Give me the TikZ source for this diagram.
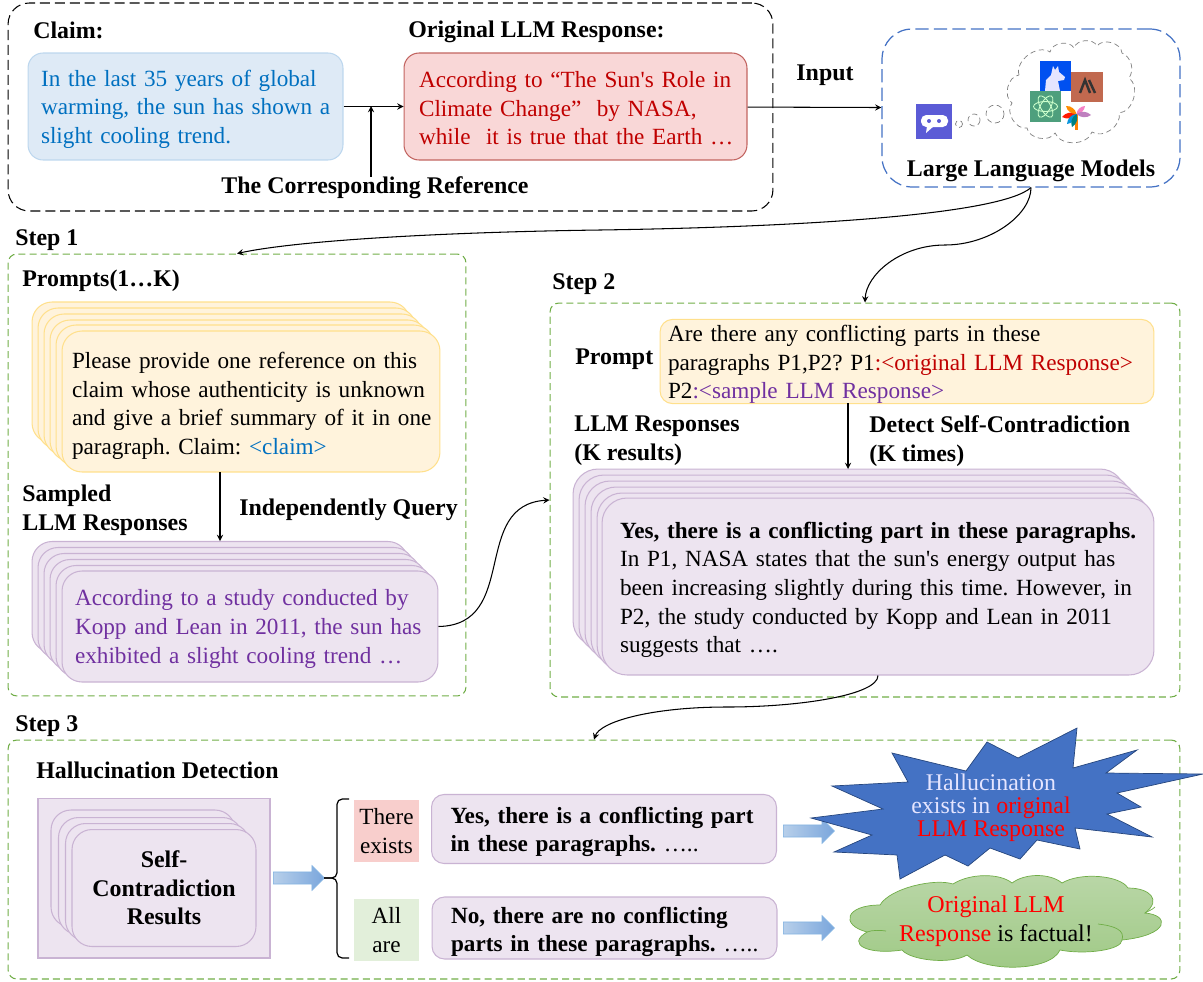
\documentclass[tikz,border=0pt]{standalone}
\usepackage{fontspec}
\setmainfont{Liberation Serif}
\usepackage{tikz}
\usetikzlibrary{shapes.arrows}

\definecolor{blueink}{HTML}{0070C0}
\definecolor{redink}{HTML}{C00000}
\definecolor{purpleink}{HTML}{7030A0}
\definecolor{claimfill}{HTML}{DEEAF6}
\definecolor{claimedge}{HTML}{BDD7EE}
\definecolor{origfill}{HTML}{F9D7D7}
\definecolor{origedge}{HTML}{C26460}
\definecolor{cardpurple}{HTML}{EDE4F0}
\definecolor{cardedge}{HTML}{C9B3D3}
\definecolor{cardyellow}{HTML}{FFF3DC}
\definecolor{yellowedge}{HTML}{FFE08C}
\definecolor{stepgreen}{HTML}{70AD47}
\definecolor{botviolet}{HTML}{5B5BD6}
\definecolor{llamablue}{HTML}{0050F0}
\definecolor{clayred}{HTML}{C1694F}
\definecolor{gptgreen}{HTML}{4E9F7D}
\definecolor{burstblue}{HTML}{4472C4}
\definecolor{burstedge}{HTML}{26467D}
\definecolor{tagred}{HTML}{F8CECC}
\definecolor{taggreen}{HTML}{E2EFDA}
\definecolor{arrowpale}{HTML}{B7CFEA}
\definecolor{arrowdeep}{HTML}{7AA6DC}
\definecolor{arrowedge}{HTML}{84B4E2}
\definecolor{cloudtop}{HTML}{BAD7A8}
\definecolor{cloudlow}{HTML}{9FC985}

\newcommand{\pushdown}[1]{\rule{0pt}{#1pt}}

\tikzset{
  >=stealth,
  every node/.style={font=\fontsize{13.2}{16.3}\selectfont,inner sep=0pt},
  title/.style={anchor=west,align=left,font=\fontsize{13.6}{16.3}\selectfont\bfseries},
  link/.style={line width=0.6pt},
  stepbox/.style={draw=stepgreen,line width=0.6pt,dash pattern=on 4pt off 2.3pt,rounded corners=5pt},
  promptcard/.style={draw=yellowedge,line width=0.6pt,fill=cardyellow,rounded corners=0.4cm,minimum width=7.56cm,minimum height=2.82cm},
  samplecard/.style={draw=cardedge,line width=0.6pt,fill=cardpurple,rounded corners=0.4cm,minimum width=7.52cm,minimum height=2.22cm},
  resultcard/.style={draw=cardedge,line width=0.6pt,fill=cardpurple,rounded corners=0.5cm,minimum width=11.04cm,minimum height=3.54cm},
  selfcard/.style={draw=cardedge,line width=0.6pt,fill=cardpurple,rounded corners=0.4cm,minimum width=3.68cm,minimum height=2.34cm},
  verdict/.style={draw=cardedge,line width=0.6pt,fill=cardpurple,rounded corners=0.25cm,align=left},
  tag/.style={minimum width=1.3cm,minimum height=1.24cm,align=center},
  fatarrow/.style={single arrow,anchor=tail,draw=arrowedge,left color=arrowpale,right color=arrowdeep,
    inner xsep=0pt,inner ysep=0.114cm,minimum width=0.48cm,minimum height=1.02cm,single arrow head extend=0.126cm},
  iconbox/.style={minimum width=0.62cm,minimum height=0.6cm},
  puff/.style={draw=gray,densely dashed},
}

\begin{document}
\frenchspacing
\begin{tikzpicture}[x=0.02cm,y=-0.02cm]
  \useasboundingbox (0,0) rectangle (1203,981);

  % top row
  \node[draw,line width=0.6pt,dash pattern=on 5.7pt off 2.8pt,rounded corners=12pt,minimum width=15.3cm,minimum height=4.16cm] (top-box) at (390.5,107) {};
  \node[title] (claim-label) at (33,30) {Claim:};
  \node[title] (orig-label) at (408,32) {Original LLM Response:};
  \node[draw=claimedge,line width=0.6pt,fill=claimfill,rounded corners=0.3cm,minimum width=6.3cm,minimum height=2.14cm,
    inner xsep=0.26cm,text width=5.78cm,align=left,text=blueink] (claim) at (185.5,106.5)
    {\pushdown{12.4}In the last 35 years of global\\\mbox{warming, the sun has shown a}\\slight cooling trend.};
  \node[draw=origedge,line width=0.6pt,fill=origfill,rounded corners=0.3cm,minimum width=6.86cm,minimum height=2.14cm,
    inner xsep=0.3cm,text width=6.26cm,align=left,text=redink] (orig) at (575.5,106.5)
    {\pushdown{11.3}\mbox{According to “The Sun\textquotesingle s Role in}\\Climate Change”~ by NASA,\\\mbox{while~ it is true that the Earth …}};
  \node[title,anchor=center] (reference) at (375,188) {The Corresponding Reference};
  \coordinate (claim-join) at (371,106);
  \node[title,anchor=center] (input) at (825,75) {Input};
  \node[draw=burstblue,line width=0.7pt,dash pattern=on 7.5pt off 3pt,rounded corners=0.6cm,minimum width=5.96cm,minimum height=3.16cm] (llm) at (1031,108) {};
  \node[title,anchor=center] (llm-label) at (1031,171) {Large Language Models};

  % thought cloud
  \draw[puff] (1019,75) to[bend left=70] (1050,52) to[bend left=70] (1074,48) to[bend left=70] (1097,46)
    to[bend left=70] (1122,53) to[bend left=50] (1129,78) to[bend left=70] (1119,113) to[bend left=70] (1092,132)
    to[bend left=70] (1055,133) to[bend left=70] (1027,128) to[bend left=70] (1012,103) to[bend left=70] (1019,75);
  \draw[puff] (995,114) circle (9);
  \draw[puff] (974,120) circle (6);
  \draw[puff] (959,124) circle (3.5);
  \node[iconbox,fill=botviolet,minimum width=0.72cm,minimum height=0.7cm] (bot) at (934,121.5) {};
  \fill[white,rounded corners=3pt] (921,115) rectangle (948,127);
  \fill[white] (927,126) -- (934,126) -- (926,133) -- cycle;
  \fill[botviolet] (929,121) circle (2) (939,121) circle (2);
  \node[iconbox,fill=llamablue] (llama) at (1055.5,76) {};
  \fill[white!90!blue] (1045,91) -- (1046,80) -- (1051,75) -- (1053,66) -- (1055,70) -- (1058,66) -- (1059,72) -- (1065,77) -- (1064,80) -- (1058,81) -- (1060,91) -- cycle;
  \node[iconbox,fill=clayred,minimum width=0.64cm] (anthropic) at (1087,87) {};
  \draw[black!80,line width=1.4pt] (1080,93) -- (1085,80) -- (1090,93) (1089,80) -- (1095,93);
  \node[iconbox,fill=gptgreen,minimum height=0.62cm] (openai) at (1045.5,106.5) {};
  \draw[white!80!green,line width=0.5pt] (1045.5,106.5) ellipse (12 and 5);
  \draw[white!80!green,line width=0.5pt,rotate around={60:(1045.5,106.5)}] (1045.5,106.5) ellipse (12 and 5);
  \draw[white!80!green,line width=0.5pt,rotate around={-60:(1045.5,106.5)}] (1045.5,106.5) ellipse (12 and 5);
  \coordinate (palm) at (1076.5,114);
  \fill[orange] (1075,114) rectangle (1078,130);
  \fill[red!80!orange] (palm) to[bend left=40] (1062,117) to[bend left=40] (palm);
  \fill[orange!90!yellow] (palm) to[bend left=40] (1066,106) to[bend left=40] (palm);
  \fill[magenta!50] (palm) to[bend left=40] (1085,106) to[bend left=40] (palm);
  \fill[violet!50] (palm) to[bend left=40] (1091,115) to[bend left=40] (palm);
  \fill[cyan!80!blue] (palm) to[bend left=40] (1067,124) to[bend left=40] (palm);
  \fill[teal] (palm) to[bend left=40] (1072,127) to[bend left=40] (palm);

  \draw[->,link] (claim) -- (orig);
  \draw[->,link] (reference.north -| claim-join) -- (claim-join);
  \draw[->,link] (orig) -- (llm);

  % step 1
  \node[title] (step1-label) at (15,240) {Step 1};
  \node[stepbox,minimum width=9.16cm,minimum height=8.84cm] (step1) at (237,475) {};
  \node[title] (prompts-label) at (22,281) {Prompts(1…K)};
  \node[promptcard] (prompt-a) at (221,372.5) {};
  \node[promptcard] (prompt-b) at (227,378.5) {};
  \node[promptcard] (prompt-c) at (233,384.5) {};
  \node[promptcard] (prompt-d) at (239,390.5) {};
  \node[promptcard] (prompt-e) at (245,395.5) {};
  \node[promptcard,inner xsep=0.2cm,text width=7.16cm,align=left] (prompt-f) at (251,401.5)
    {\pushdown{14.1}\mbox{Please provide one reference on this}\\\mbox{claim whose authenticity is unknown}\\\mbox{and give a brief summary of it in one}\\paragraph. Claim: \textcolor{blueink}{<claim>}};
  \node[title] (sampled-label) at (22,510.5) {Sampled\\LLM Responses};
  \node[title] (query-label) at (239,510) {Independently Query};
  \coordinate (query-top) at (220,472);
  \coordinate (query-end) at (220,541);
  \node[samplecard] (sample-a) at (220,597) {};
  \node[samplecard] (sample-b) at (226,603) {};
  \node[samplecard] (sample-c) at (232,609) {};
  \node[samplecard] (sample-d) at (238,615) {};
  \node[samplecard] (sample-e) at (244,621) {};
  \node[samplecard,inner xsep=0.26cm,text width=7cm,align=left,text=purpleink] (sample-f) at (250,626.5)
    {\pushdown{11.9}According to a study conducted by\\\mbox{Kopp and Lean in 2011, the sun has}\\exhibited a slight cooling trend …};
  \draw[->,link] (query-top) -- (query-end);

  % step 2
  \node[title] (step2-label) at (552,284) {Step 2};
  \node[stepbox,minimum width=12.6cm,minimum height=7.88cm] (step2) at (865,500) {};
  \node[title] (question-label) at (575,359) {Prompt};
  \node[draw=yellowedge,line width=0.6pt,fill=cardyellow,rounded corners=0.25cm,minimum width=9.88cm,minimum height=1.66cm,
    inner xsep=0.16cm,text width=9.56cm,align=left] (question) at (907,361.5)
    {\pushdown{12.5}Are there any conflicting parts in these\\paragraphs P1,P2? P1\textcolor{redink}{:<original LLM Response>}\\P2\textcolor{purpleink}{:<sample LLM Response>}\par\vspace{-2pt}};
  \node[title] (responses-label) at (574,441) {LLM Responses\\(K results)};
  \node[title] (detect-label) at (869,441) {Detect Self-Contradiction\\(K times)};
  \coordinate (detect-top) at (848,403);
  \coordinate (detect-end) at (848,469);
  \node[resultcard] (result-a) at (849,557.5) {};
  \node[resultcard] (result-b) at (855,563.5) {};
  \node[resultcard] (result-c) at (861,569.5) {};
  \node[resultcard] (result-d) at (867,575.5) {};
  \node[resultcard] (result-e) at (873,581.5) {};
  \node[resultcard,inner xsep=0.36cm,text width=10.32cm,align=left] (result-f) at (878,586.5)
    {\pushdown{13}\mbox{\textbf{Yes, there is a conflicting part in these paragraphs.}}\\In P1, NASA states that the sun\textquotesingle s energy output has\\been increasing slightly during this time. However, in\\P2, the study conducted by Kopp and Lean in 2011\\suggests that ….};
  \draw[->,link] (detect-top) -- (detect-end);

  % step 3
  \node[title] (step3-label) at (15,726) {Step 3};
  \node[stepbox,minimum width=23.44cm,minimum height=4.78cm] (step3) at (594,859.5) {};
  \node[title] (detection-label) at (36,770) {Hallucination Detection};
  \node[draw=cardedge,line width=0.6pt,fill=cardpurple,minimum width=4.64cm,minimum height=3.2cm] (self-back) at (154,878) {};
  \node[selfcard] (self-a) at (143,868.5) {};
  \node[selfcard] (self-b) at (150.5,876) {};
  \node[selfcard] (self-c) at (157.5,882) {};
  \node[selfcard,align=center,font=\fontsize{13.6}{16.3}\selectfont\bfseries] (self-d) at (164,888) {Self-\\Contradiction\\Results};
  \node[fatarrow] (arrow-a) at (273,878) {};
  \coordinate (brace-high) at (349,799);
  \coordinate (brace-spine) at (337,878);
  \coordinate (brace-tip) at (324,878);
  \coordinate (brace-low) at (349,958);
  \draw[line width=0.7pt,rounded corners=3pt] (brace-high) -| (brace-spine) -- (brace-tip);
  \draw[line width=0.7pt,rounded corners=3pt] (brace-low) -| (brace-spine) -- (brace-tip);
  \node[tag,fill=tagred] (exists) at (386.5,831) {There\\exists};
  \node[tag,fill=taggreen] (allare) at (386.5,930) {All\\are};
  \node[verdict,minimum width=6.9cm,minimum height=1.38cm,inner xsep=0.38cm,text width=6.14cm] (yes) at (604,829)
    {\pushdown{12.4}\textbf{Yes, there is a conflicting part}\\\textbf{in these paragraphs.} …..};
  \node[verdict,minimum width=6.9cm,minimum height=1.24cm,inner xsep=0.38cm,text width=6.14cm] (no) at (604.5,928)
    {\pushdown{13.6}\textbf{No, there are no conflicting}\\\mbox{\textbf{parts in these paragraphs.} …..}};
  \node[fatarrow] (arrow-b) at (783,831) {};
  \node[fatarrow] (arrow-c) at (783,928) {};

  % burst
  \draw[fill=burstblue,draw=burstedge] (1077,728) -- (1073,768) -- (1137,750) -- (1106,773) -- (1203,774)
    -- (1117,793) -- (1141,807) -- (1107,814) -- (1152,837) -- (1075,828) -- (1080,849) -- (1037,840)
    -- (1020,859) -- (990,848) -- (968,866) -- (945,855) -- (900,879) -- (897,855) -- (834,852) -- (872,835)
    -- (811,818) -- (883,809) -- (832,786) -- (908,782) -- (892,753) -- (966,771) -- (987,742) -- (1018,758) -- cycle;
  \node[align=center,text=white!90!blue,font=\fontsize{13.6}{13.2}\selectfont] (burst-label) at (991,808)
    {Hallucination\\exists in \textcolor{red}{original}\\\textcolor{red}{LLM Response}};

  % green cloud
  \draw[draw=stepgreen,top color=cloudtop,bottom color=cloudlow]
    (880,905) .. controls (890,888) and (935,878) .. (953,884)
    .. controls (970,873) and (1000,873) .. (1012,883)
    .. controls (1025,873) and (1050,873) .. (1062,883)
    .. controls (1080,872) and (1120,875) .. (1128,888)
    .. controls (1150,888) and (1162,900) .. (1145,913)
    .. controls (1170,915) and (1170,935) .. (1122,940)
    .. controls (1122,950) and (1085,955) .. (1060,950)
    .. controls (1050,972) and (985,972) .. (967,955)
    .. controls (950,965) and (910,960) .. (902,950)
    .. controls (870,955) and (845,945) .. (867,932)
    .. controls (840,925) and (845,905) .. (880,905) -- cycle;
  \draw[draw=stepgreen] (867,932) .. controls (872,930) and (880,930) .. (886,931)
    (1145,913) .. controls (1148,911) and (1152,910) .. (1155,907)
    (1122,940) .. controls (1125,930) and (1115,926) .. (1098,924);
  \node[align=center,font=\fontsize{13.7}{16.3}\selectfont] (cloud-label) at (996,921)
    {\textcolor{red}{Original LLM}\\\textcolor{red}{Response} is factual!};

  % links between the steps
  \coordinate (bend-one) at (600,230);
  \coordinate (bend-two) at (945,245);
  \coordinate (bend-three) at (727,707);
  \draw[->,link] (llm.south) .. controls (1000,215) and (800,227) .. (bend-one)
    .. controls (450,232) and (300,240) .. (step1.north);
  \draw[->,link] (llm.south) .. controls (1031,215) and (990,245) .. (bend-two)
    .. controls (900,245) and (866,275) .. (step2.north);
  \draw[->,link] (sample-f.east) .. controls (520,625) and (470,505) .. (step2.west);
  \draw[->,link] (result-f.south) .. controls (878,695) and (800,707) .. (bend-three)
    .. controls (650,707) and (600,722) .. (step3.north);
\end{tikzpicture}
\end{document}
